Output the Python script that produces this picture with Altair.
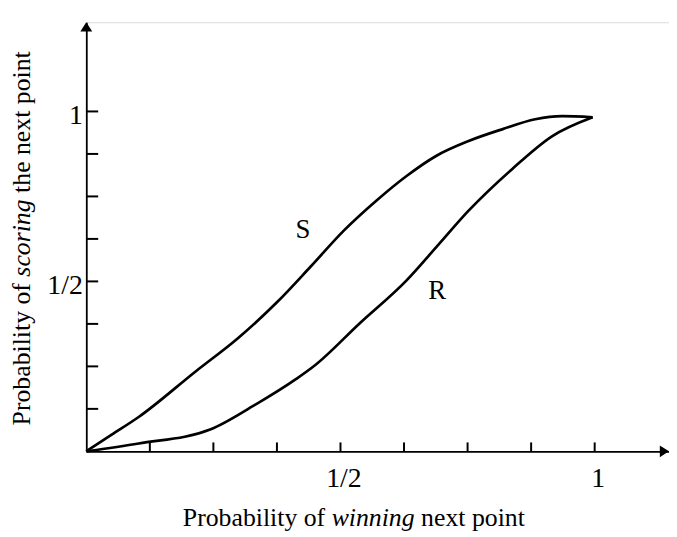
import altair as alt
import pandas as pd

# ---- data ----
s_x = [0.0, 0.05, 0.103, 0.215, 0.30, 0.376, 0.441, 0.507, 0.571, 0.63, 0.688, 0.752, 0.819, 0.883, 0.936, 0.996]
s_y = [0.0, 0.049, 0.101, 0.235, 0.335, 0.44, 0.543, 0.65, 0.738, 0.81, 0.869, 0.913, 0.948, 0.977, 0.986, 0.983]
r_x = [0.0, 0.103, 0.245, 0.33, 0.413, 0.448, 0.538, 0.63, 0.688, 0.752, 0.838, 0.916, 0.996]
r_y = [0.0, 0.023, 0.065, 0.135, 0.213, 0.251, 0.377, 0.503, 0.60, 0.708, 0.831, 0.927, 0.983]
curve_names = ["S", "R"]
curve_label_x = [0.426, 0.690]
curve_label_y = [0.650, 0.472]

x_tick_values = [0.125, 0.25, 0.375, 0.5, 0.625, 0.75, 0.875, 1.0]
y_tick_values = [0.125, 0.25, 0.375, 0.5, 0.625, 0.75, 0.875, 1.0]
label_values = [0.5, 1.0]
label_texts = ["1/2", "1"]
x_title_parts = ["Probability of", "winning", "next point"]
y_title_parts = ["Probability of", "scoring", "the next point"]

# ---- layout ----
W, H = 588, 433
XMAX = W / 513.0
YMAX = H / 343.0
FONT = "Liberation Serif"
px_x = XMAX / W   # data units per pixel along x
px_y = YMAX / H   # data units per pixel along y

xscale = alt.Scale(domain=[0, XMAX], nice=False, zero=False)
yscale = alt.Scale(domain=[0, YMAX], nice=False, zero=False)

label_expr = " : ".join(
    f"datum.value == {v} ? '{t}'" for v, t in zip(label_values[:-1], label_texts[:-1])
) + f" : '{label_texts[-1]}'"

xaxis = alt.Axis(values=label_values, labelExpr=label_expr, title=None, grid=False,
                 ticks=False, domainColor="black", domainWidth=1.8,
                 labelFont=FONT, labelFontSize=28, labelColor="black",
                 labelPadding=13, labelOffset=3)
yaxis = alt.Axis(values=label_values, labelExpr=label_expr, title=None, grid=False,
                 ticks=False, domainColor="black", domainWidth=1.8,
                 labelFont=FONT, labelFontSize=28, labelColor="black",
                 labelPadding=4, labelOffset=4)


def X(f):
    return alt.X(f, type="quantitative", scale=xscale, axis=xaxis)


def Y(f):
    return alt.Y(f, type="quantitative", scale=yscale, axis=yaxis)


curves = pd.DataFrame(
    [{"x": x, "y": y, "series": "S", "o": i} for i, (x, y) in enumerate(zip(s_x, s_y))]
    + [{"x": x, "y": y, "series": "R", "o": i} for i, (x, y) in enumerate(zip(r_x, r_y))]
)

line = alt.Chart(curves).mark_line(color="black", strokeWidth=2.7, interpolate="monotone").encode(
    x=X("x"), y=Y("y"), detail="series:N", order="o:Q"
)

ticks_df = pd.DataFrame(
    [{"x": v, "x2": v, "y": 0.0, "y2": 9 * px_y} for v in x_tick_values]
    + [{"x": 0.0, "x2": 12 * px_x, "y": v, "y2": v} for v in y_tick_values]
)
ticks = alt.Chart(ticks_df).mark_rule(color="black", strokeWidth=2).encode(
    x=X("x"), x2="x2:Q", y=Y("y"), y2="y2:Q"
)

arrows_df = pd.DataFrame([
    {"x": 0.0, "y": YMAX - 4.8 * px_y, "shape": "M-1,0.75L0,-0.8L1,0.75Z"},
    {"x": XMAX - 4.8 * px_x, "y": 0.0, "shape": "M-0.75,-1L0.8,0L-0.75,1Z"},
])
arrows = alt.Chart(arrows_df).mark_point(filled=True, color="black", opacity=1, size=144).encode(
    x=X("x"), y=Y("y"), shape=alt.Shape("shape:N", scale=None, legend=None)
)

clabels = pd.DataFrame({"x": curve_label_x, "y": curve_label_y, "t": curve_names})
clab = alt.Chart(clabels).mark_text(font=FONT, fontSize=27, color="black",
                                    align="center", baseline="middle").encode(
    x=X("x"), y=Y("y"), text="t:N"
)

# x title in three pieces (middle word italic)
xt_anchor_x = 0.4826
xt_y = -0.195
xt1 = alt.Chart(pd.DataFrame({"x": [xt_anchor_x], "y": [xt_y], "t": [x_title_parts[0]]})).mark_text(
    font=FONT, fontSize=26, color="black", align="right", baseline="middle", dx=-6.5
).encode(x=X("x"), y=Y("y"), text="t:N")
xt2 = alt.Chart(pd.DataFrame({"x": [xt_anchor_x], "y": [xt_y], "t": [x_title_parts[1]]})).mark_text(
    font=FONT, fontSize=26, fontStyle="italic", color="black", align="left", baseline="middle"
).encode(x=X("x"), y=Y("y"), text="t:N")
xt3 = alt.Chart(pd.DataFrame({"x": [xt_anchor_x], "y": [xt_y], "t": [x_title_parts[2]]})).mark_text(
    font=FONT, fontSize=26, color="black", align="left", baseline="middle", dx=90.3
).encode(x=X("x"), y=Y("y"), text="t:N")

# y title in three pieces, rotated
yt_x = -0.127
yt_anchor_y = 0.514
yt1 = alt.Chart(pd.DataFrame({"x": [yt_x], "y": [yt_anchor_y], "t": [y_title_parts[0]]})).mark_text(
    font=FONT, fontSize=26, color="black", align="right", baseline="middle", angle=270, dx=-6.5
).encode(x=X("x"), y=Y("y"), text="t:N")
yt2 = alt.Chart(pd.DataFrame({"x": [yt_x], "y": [yt_anchor_y], "t": [y_title_parts[1]]})).mark_text(
    font=FONT, fontSize=26, fontStyle="italic", color="black", align="left", baseline="middle", angle=270
).encode(x=X("x"), y=Y("y"), text="t:N")
yt3 = alt.Chart(pd.DataFrame({"x": [yt_x], "y": [yt_anchor_y], "t": [y_title_parts[2]]})).mark_text(
    font=FONT, fontSize=26, color="black", align="left", baseline="middle", angle=270, dx=84.5
).encode(x=X("x"), y=Y("y"), text="t:N")

chart = alt.layer(line, ticks, arrows, clab, xt1, xt2, xt3, yt1, yt2, yt3).properties(
    width=W, height=H,
    autosize=alt.AutoSizeParams(type="none"),
    padding={"left": 79, "top": 12, "right": 0, "bottom": 80},
).configure_view(stroke=None).configure(background="white")

chart.save("out.html", embed_options={"renderer": "svg", "actions": False})
